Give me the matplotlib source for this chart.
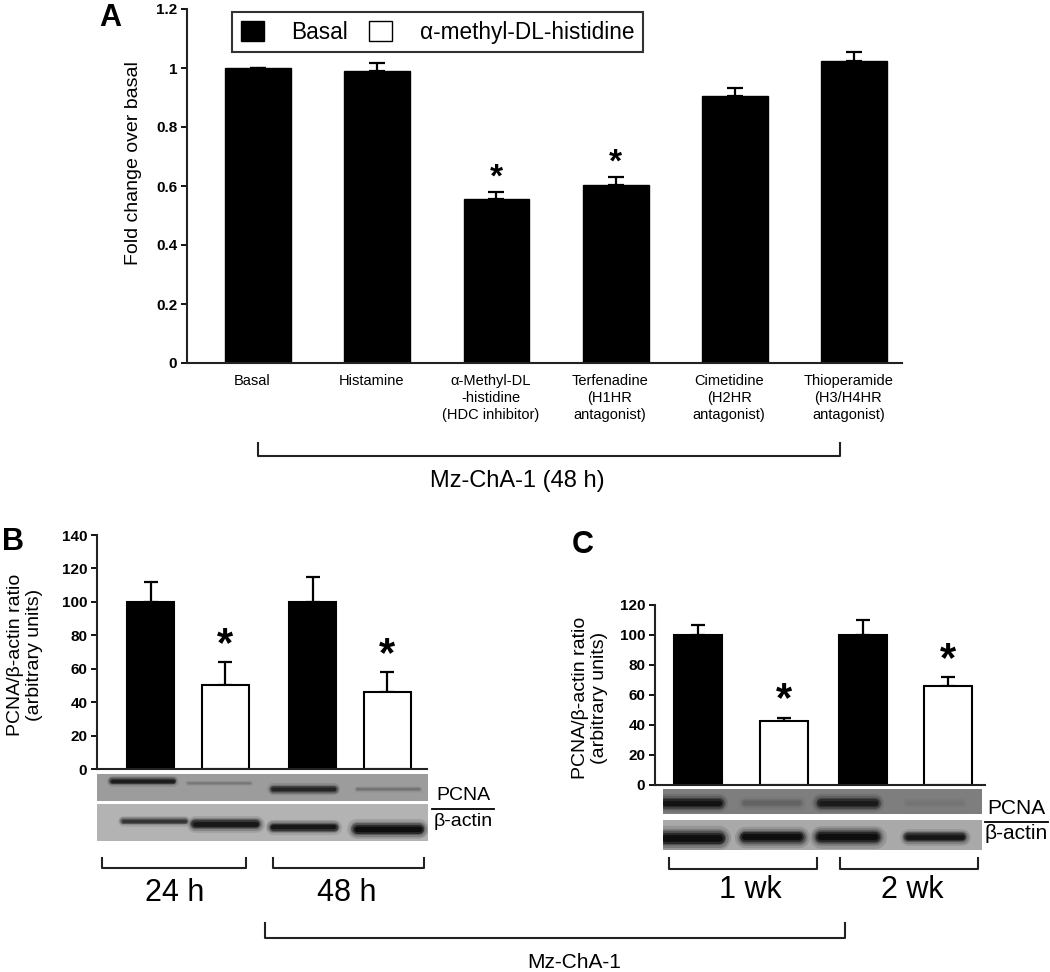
import matplotlib
matplotlib.use('Agg')
import matplotlib.pyplot as plt
from matplotlib.patches import Patch
import numpy as np

plt.rcParams['font.family'] = ['Liberation Sans', 'DejaVu Sans']

W, H = 1050, 972

# ---- panel A data ----
a_labels = ['Basal', 'Histamine', 'α-Methyl-DL\n-histidine\n(HDC inhibitor)',
            'Terfenadine\n(H1HR\nantagonist)', 'Cimetidine\n(H2HR\nantagonist)',
            'Thioperamide\n(H3/H4HR\nantagonist)']
a_values = [1.0, 0.99, 0.556, 0.603, 0.905, 1.024]
a_err = [0.0, 0.027, 0.024, 0.027, 0.027, 0.03]
a_star = [False, False, True, True, False, False]

# ---- panel B data ----
b_groups = ['24 h', '48 h']
b_basal = [100, 100]
b_basal_err = [12, 15]
b_amh = [50, 46]
b_amh_err = [14, 12]

# ---- panel C data ----
c_groups = ['1 wk', '2 wk']
c_basal = [100, 100]
c_basal_err = [7, 10]
c_amh = [43, 66]
c_amh_err = [2, 6]

# blot band intensities per lane (basal, amh, basal, amh)
b_pcna_band = [0.85, 0.2, 0.8, 0.25]
b_actin_band = [0.7, 0.9, 0.9, 0.95]
c_pcna_band = [0.9, 0.3, 0.85, 0.12]
c_actin_band = [0.95, 0.95, 0.95, 0.9]


def box(x0, y0, x1, y1):
    return [x0 / W, 1 - y1 / H, (x1 - x0) / W, (y1 - y0) / H]


def style_axes(ax):
    for s in ['top', 'right']:
        ax.spines[s].set_visible(False)
    for s in ['left', 'bottom']:
        ax.spines[s].set_linewidth(1.5)
        ax.spines[s].set_color('#222222')
    ax.tick_params(axis='y', length=4, width=1.3, labelsize=11, pad=3)
    ax.tick_params(axis='x', length=0)
    for t in ax.get_yticklabels():
        t.set_fontweight('bold')


fig = plt.figure(figsize=(W / 100, H / 100), dpi=100)

# ================= Panel A =================
axA = fig.add_axes(box(187, 9, 902, 363))
xa = np.arange(len(a_values))
axA.bar(xa, a_values, width=0.55, color='black', edgecolor='black', zorder=2)
axA.errorbar(xa, a_values, yerr=[np.zeros(len(a_err)), a_err], fmt='none',
             ecolor='black', elinewidth=1.6, capsize=5.5, capthick=1.6, zorder=1)
for x, v, e, s in zip(xa, a_values, a_err, a_star):
    if s:
        axA.annotate('*', (x, v + e), xytext=(0, -1), textcoords='offset points',
                     ha='center', va='bottom', fontsize=24, fontweight='bold')
axA.set_xlim(-0.595, 5.4)
axA.set_ylim(0, 1.2)
axA.set_yticks([0, 0.2, 0.4, 0.6, 0.8, 1.0, 1.2])
axA.set_yticklabels(['0', '0.2', '0.4', '0.6', '0.8', '1', '1.2'])
axA.set_xticks(xa - 0.05)
axA.set_xticklabels(a_labels, fontsize=10.5, linespacing=1.25, va='top')
axA.tick_params(axis='x', pad=8)
style_axes(axA)
leg = axA.legend([Patch(facecolor='black', edgecolor='black'),
                  Patch(facecolor='white', edgecolor='black')],
                 ['Basal', 'α-methyl-DL-histidine'], ncol=2, loc='upper left',
                 bbox_to_anchor=((232 - 187) / 715, (363 - 12) / 354),
                 fontsize=16.3, frameon=True, fancybox=False, edgecolor='black',
                 handlelength=1.05, handleheight=1.0, handletextpad=1.2,
                 columnspacing=0.9, borderpad=0.38, borderaxespad=0)
leg.get_frame().set_linewidth(1.5)


# ================= Panels B and C =================
def bar_panel(rect, groups, basal, basal_err, amh, amh_err, ymax, step, off, xlim):
    ax = fig.add_axes(rect)
    g = np.arange(len(groups))
    xs = np.ravel(np.column_stack([g - off, g + off]))
    vals = np.ravel(np.column_stack([basal, amh]))
    errs = np.ravel(np.column_stack([basal_err, amh_err]))
    cols = ['black', 'white'] * len(groups)
    ax.bar(xs, vals, width=0.29, color=cols, edgecolor='black', linewidth=1.5, zorder=2)
    ax.errorbar(xs, vals, yerr=[np.zeros(len(errs)), errs], fmt='none', ecolor='black',
                elinewidth=1.6, capsize=5, capthick=1.6, zorder=1)
    for x, v, e in zip(g + off, amh, amh_err):
        ax.annotate('*', (x, v + e), xytext=(0, -2), textcoords='offset points',
                    ha='center', va='bottom', fontsize=30, fontweight='bold')
    ax.set_xlim(*xlim)
    ax.set_ylim(0, ymax)
    ax.set_yticks(np.arange(0, ymax + 1, step))
    ax.set_xticks([])
    style_axes(ax)
    return ax, xs


def blot(rect, xlim, xs, bands, ys, thick, bg, lane_w):
    ax = fig.add_axes(rect)
    ax.set_facecolor(bg)
    for s in ax.spines.values():
        s.set_visible(False)
    ax.set_xticks([])
    ax.set_yticks([])
    ax.set_xlim(*xlim)
    ax.set_ylim(0, 1)
    for x, b, y, t in zip(xs, bands, ys, thick):
        shade = str(0.5 * (1 - b))
        for k, a in [(2.2, 0.12), (1.7, 0.2), (1.3, 0.35), (1.0, 0.55), (0.6, 0.8)]:
            ax.plot([x - lane_w / 2, x + lane_w / 2], [y, y], color=shade,
                    lw=t * k, alpha=a * (0.3 + 0.7 * b), solid_capstyle='round')
    return ax


xlimB = (-0.56, 1.475)
axB, xsB = bar_panel(box(97, 535, 427, 769), b_groups, b_basal, b_basal_err,
                     b_amh, b_amh_err, 140, 20, 0.23, xlimB)
blot(box(97, 774, 428, 801), xlimB, xsB - np.array([0.05, 0.04, 0.06, 0.0]),
     b_pcna_band, [0.74, 0.67, 0.44, 0.44], [3.5, 2.0, 4.0, 2.2], '#9c9c9c', 0.38)
blot(box(97, 804, 428, 841), xlimB, xsB - np.array([-0.02, 0.0, 0.06, 0.0]),
     b_actin_band, [0.54, 0.46, 0.38, 0.32], [3.5, 5.5, 5.0, 6.5], '#b3b3b3', 0.38)

xlimC = (-0.523, 1.483)
axC, xsC = bar_panel(box(655, 605, 985, 785), c_groups, c_basal, c_basal_err,
                     c_amh, c_amh_err, 120, 20, 0.26, xlimC)
blot(box(663, 789, 982, 814), xlimC, xsC - np.array([0.08, 0.1, 0.1, 0.07]),
     c_pcna_band, [0.44, 0.44, 0.44, 0.44], [6.0, 4.5, 6.0, 3.5], '#7e7e7e', 0.34)
blot(box(663, 820, 982, 850), xlimC, xsC - np.array([0.08, 0.1, 0.1, 0.07]),
     c_actin_band, [0.4, 0.42, 0.42, 0.42], [8.0, 7.0, 7.5, 5.5], '#a9a9a9', 0.34)

# ================= overlay: labels and brackets =================
ov = fig.add_axes([0, 0, 1, 1], facecolor='none')
ov.set_xlim(0, W)
ov.set_ylim(H, 0)
ov.axis('off')


def bracket(x0, x1, ytop, ybot):
    ov.plot([x0, x0, x1, x1], [ytop, ybot, ybot, ytop], color='#222222', lw=1.5)


ov.text(110, 18, 'A', fontsize=22, fontweight='bold', ha='center', va='center')
ov.text(13, 542, 'B', fontsize=22, fontweight='bold', ha='center', va='center')
ov.text(583, 545, 'C', fontsize=22, fontweight='bold', ha='center', va='center')

ov.text(133, 163, 'Fold change over basal', rotation=90, fontsize=14,
        ha='center', va='center')
ov.text(25, 655, 'PCNA/β-actin ratio\n(arbitrary units)', rotation=90, fontsize=14,
        ha='center', va='center', linespacing=1.1)
ov.text(590, 698, 'PCNA/β-actin ratio\n(arbitrary units)', rotation=90, fontsize=14,
        ha='center', va='center', linespacing=1.1)

bracket(258, 840, 443, 456)
ov.text(517, 481, 'Mz-ChA-1 (48 h)', fontsize=17, ha='center', va='center')

# blot labels
for x0, x1, yp, ya, fs in [(432, 494, 795, 821, 14), (985, 1048, 808, 833, 15)]:
    ov.text((x0 + x1) / 2, yp, 'PCNA', fontsize=fs, ha='center', va='center')
    ov.plot([x0, x1], [(yp + ya) / 2 + 1, (yp + ya) / 2 + 1], color='black', lw=1.3)
    ov.text((x0 + x1) / 2, ya, 'β-actin', fontsize=fs, ha='center', va='center')

# group brackets
bracket(102, 246, 858, 868)
bracket(273, 424, 858, 868)
ov.text(175, 893, b_groups[0], fontsize=22, ha='center', va='center')
ov.text(347, 893, b_groups[1], fontsize=22, ha='center', va='center')

bracket(669, 817, 858, 869)
bracket(840, 978, 858, 869)
ov.text(750, 890, c_groups[0], fontsize=22, ha='center', va='center')
ov.text(912, 890, c_groups[1], fontsize=22, ha='center', va='center')

bracket(265, 845, 923, 938)
ov.text(574, 962, 'Mz-ChA-1', fontsize=15, ha='center', va='center')

fig.savefig('out.png', dpi=100)
